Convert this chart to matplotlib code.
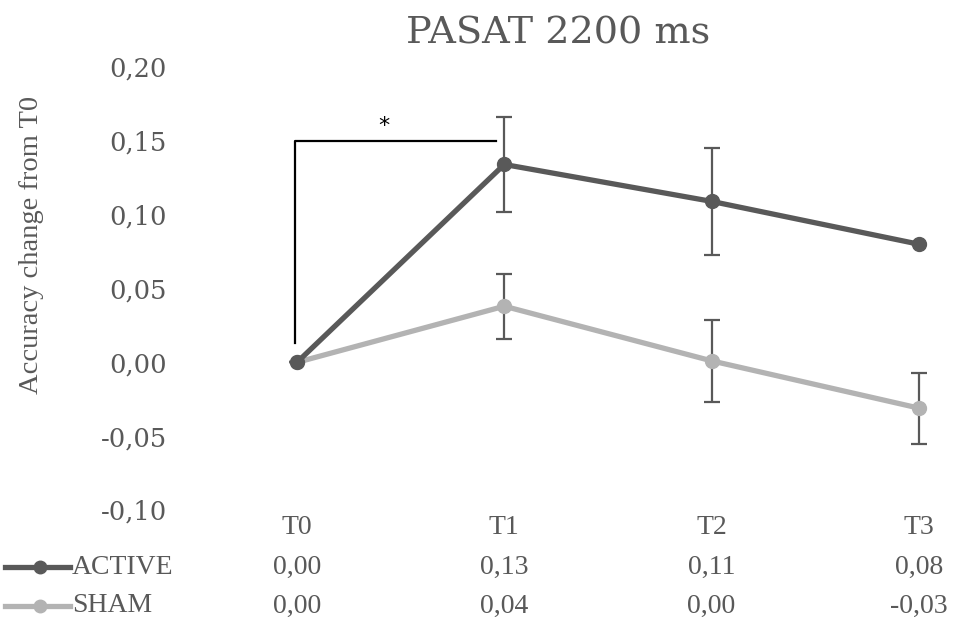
import matplotlib
matplotlib.use("Agg")
import matplotlib.pyplot as plt
import matplotlib.transforms as mtransforms
from matplotlib.lines import Line2D

# data
timepoints = ["T0", "T1", "T2", "T3"]
active = [0.0, 0.134, 0.109, 0.080]
active_err = [0.0, 0.032, 0.036, 0.0]
sham = [0.0, 0.038, 0.001, -0.031]
sham_err = [0.0, 0.022, 0.028, 0.024]
active_labels = ["0,00", "0,13", "0,11", "0,08"]
sham_labels = ["0,00", "0,04", "0,00", "-0,03"]
yticks = [-0.10, -0.05, 0.00, 0.05, 0.10, 0.15, 0.20]

DARK = "#595959"
LIGHT = "#b3b3b3"
TEXT = "#595959"

fig = plt.figure(figsize=(9.57, 6.19), dpi=100)
ax = fig.add_axes([250 / 957, 1 - 510 / 619, 700 / 957, (510 - 67) / 619])

x = list(range(len(timepoints)))

# error bars first, lines on top
ax.errorbar(x, active, yerr=active_err, fmt="none", ecolor=DARK,
            elinewidth=1.6, capsize=6, capthick=1.6, zorder=2)
ax.errorbar(x, sham, yerr=sham_err, fmt="none", ecolor=DARK,
            elinewidth=1.6, capsize=6, capthick=1.6, zorder=2)
ax.plot(x, sham, color=LIGHT, lw=3.8, marker="o", ms=10, zorder=3)
ax.plot(x, active, color=DARK, lw=3.8, marker="o", ms=10, zorder=4)

# significance bracket T0 -> T1
ax.plot([-0.01, -0.01, 0.96], [0.013, 0.150, 0.150], color="black", lw=1.6, zorder=5)
ax.text(0.42, 0.153, "*", ha="center", va="bottom", fontsize=16, color="black")

ax.set_xlim(-0.2267, 3.150)
ax.set_ylim(-0.10, 0.20)
ax.set_yticks(yticks)
ax.set_yticklabels([f"{v:.2f}".replace(".", ",") for v in yticks],
                   fontfamily="DejaVu Serif", fontsize=18.5, color=TEXT)
ax.tick_params(axis="y", length=0, pad=60)
ax.set_xticks([])
for s in ax.spines.values():
    s.set_visible(False)

fig.text(558 / 957, 1 - 33 / 619, "PASAT 2200 ms", ha="center", va="center",
         fontfamily="DejaVu Serif", fontsize=27.5, color=TEXT)
fig.text(32 / 957, 1 - 245 / 619, "Accuracy change from T0", rotation=90,
         ha="center", va="center", fontfamily="Liberation Serif", fontsize=20.5,
         color=TEXT)

# data table under the plot
trans = mtransforms.blended_transform_factory(ax.transData, fig.transFigure)
rows_y = [1 - 527 / 619, 1 - 567 / 619, 1 - 606 / 619]
tfont = dict(fontfamily="Liberation Serif", fontsize=20, color=TEXT,
             ha="center", va="center")
for i, t in enumerate(timepoints):
    fig.text(x[i], rows_y[0], t, transform=trans, **tfont)
    fig.text(x[i], rows_y[1], active_labels[i], transform=trans, **tfont)
    fig.text(x[i], rows_y[2], sham_labels[i], transform=trans, **tfont)

for ry, name, col in [(rows_y[1], "ACTIVE", DARK), (rows_y[2], "SHAM", LIGHT)]:
    fig.add_artist(Line2D([5 / 957, 70 / 957], [ry, ry], color=col, lw=3.8,
                          transform=fig.transFigure))
    fig.add_artist(Line2D([40 / 957], [ry], color=col, marker="o", ms=9,
                          transform=fig.transFigure))
    fig.text(72 / 957, ry, name, ha="left", va="center",
             fontfamily="Liberation Serif", fontsize=20, color=TEXT)

fig.savefig("out.png", dpi=100, facecolor="white")
